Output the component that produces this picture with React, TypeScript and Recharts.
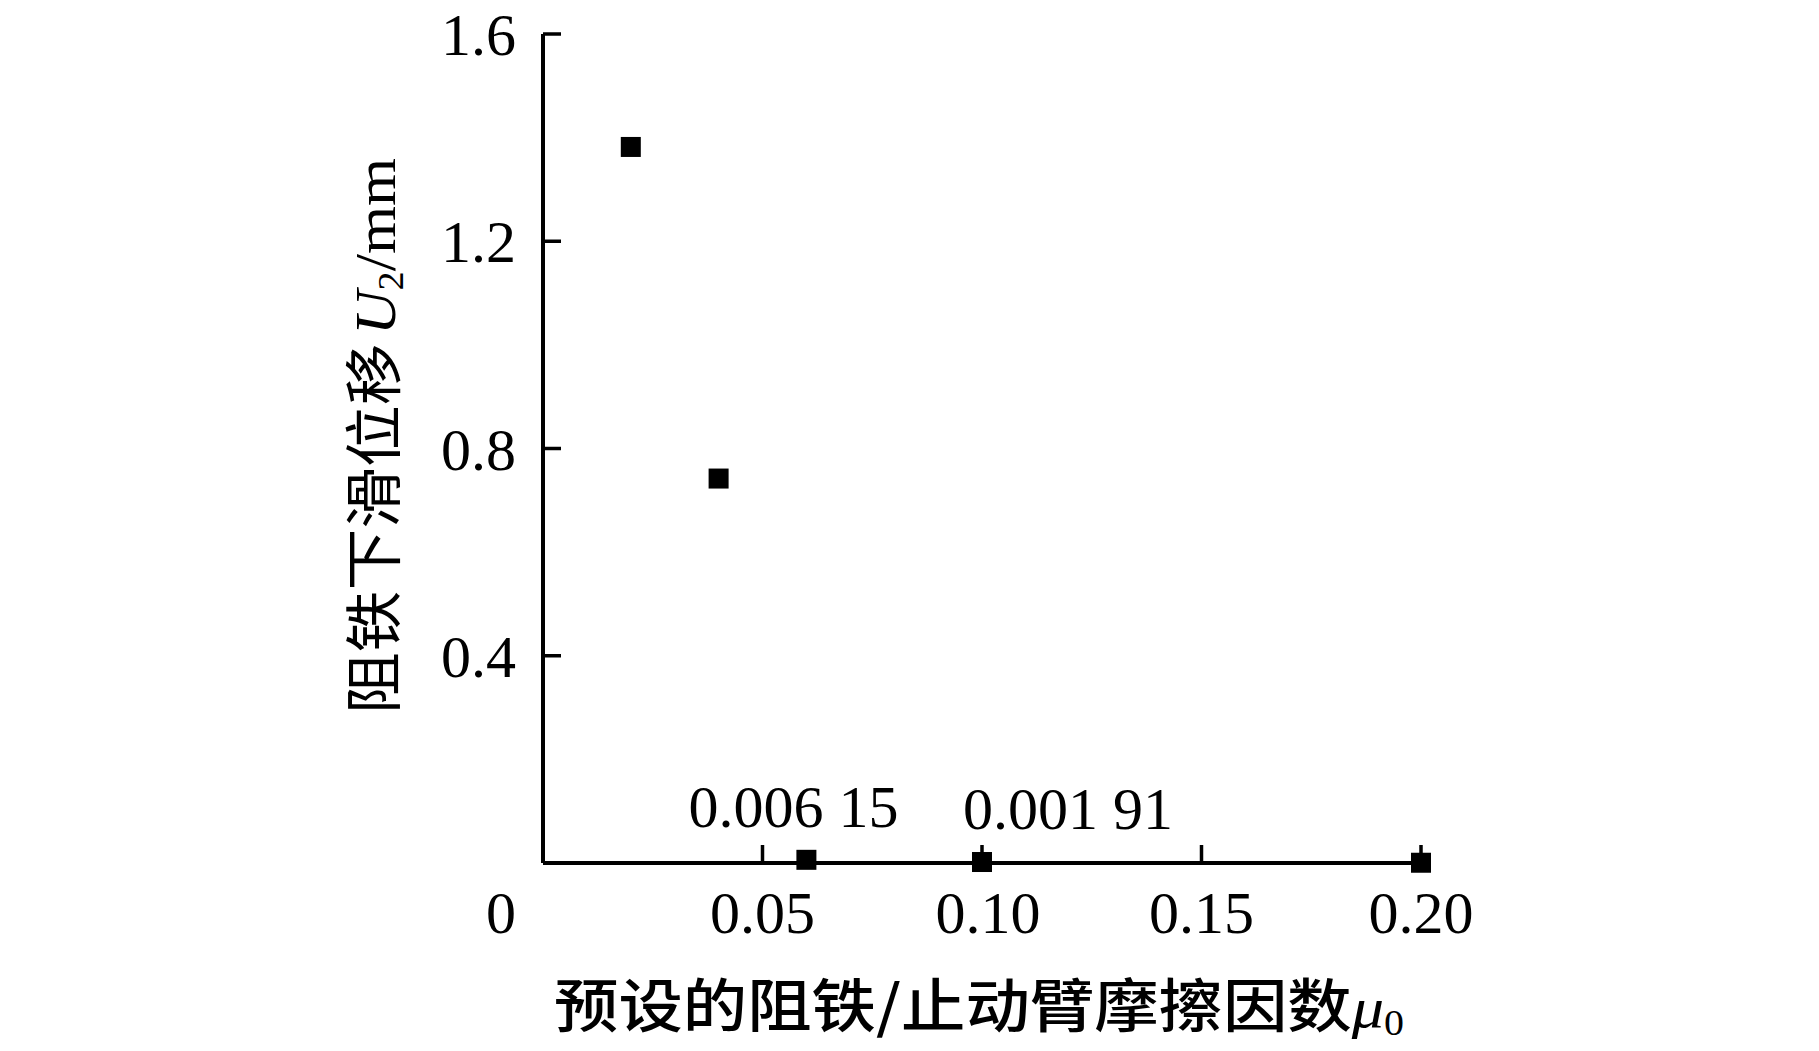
import React from 'react';
import { ScatterChart, Scatter, XAxis, YAxis } from 'recharts';

// preset friction coefficient mu0 and resulting slip U2 (mm)
const muValues = [0.02, 0.04, 0.06, 0.1, 0.2];
const slipValues = [1.382, 0.742, 0.00615, 0.00191, 0.0005];
const noteLabels = ['', '', '0.006 15', '0.001 91', ''];

const xTicks = [0, 0.05, 0.1, 0.15, 0.2];
const xTickLabels = ['0', '0.05', '0.10', '0.15', '0.20'];
const yTicks = [0.4, 0.8, 1.2, 1.6];
const yTickLabels = ['0.4', '0.8', '1.2', '1.6'];

const points = muValues.map((mu, i) => ({ x: mu, y: slipValues[i], note: noteLabels[i] }));

const SERIF = '"Liberation Serif", "Times New Roman", serif';
const CJK = '"Noto Sans CJK SC", sans-serif';
const INK = '#000';

const noteShift: Record<number, number> = { 2: -13, 3: 86 };
const xLabelShift: Record<number, number> = { 0: -42, 2: 6 };

const XTick = ({ x, y, payload }: any) => {
  const idx = xTicks.indexOf(payload.value);
  const label = xTickLabels[idx] ?? String(payload.value);
  const isZero = payload.value === 0;
  return (
    <g>
      {!isZero && <line x1={x} y1={y} x2={x} y2={y - 18} stroke={INK} strokeWidth={3.5} />}
      <text
        x={x + (xLabelShift[idx] ?? 0)}
        y={y + 70}
        textAnchor="middle"
        fontFamily={SERIF}
        fontSize={60}
        fill={INK}
      >
        {label}
      </text>
    </g>
  );
};

const YTick = ({ x, y, payload }: any) => {
  const label = yTickLabels[yTicks.indexOf(payload.value)] ?? String(payload.value);
  return (
    <g>
      <line x1={x} y1={y} x2={x + 18} y2={y} stroke={INK} strokeWidth={3.5} />
      <text x={x - 27} y={y + 21} textAnchor="end" fontFamily={SERIF} fontSize={60} fill={INK}>
        {label}
      </text>
    </g>
  );
};

const SquareMarker = ({ cx, cy, payload }: any) => {
  const i = muValues.indexOf(payload.x);
  return (
    <g>
      <rect x={cx - 10} y={cy - 10} width={20} height={20} fill={INK} />
      {payload.note && (
        <text
          x={cx + (noteShift[i] ?? 0)}
          y={cy - 33}
          textAnchor="middle"
          fontFamily={SERIF}
          fontSize={60}
          fill={INK}
        >
          {payload.note}
        </text>
      )}
    </g>
  );
};

export default function App() {
  return (
    <div style={{ position: 'absolute', left: 0, top: 0, width: 1819, height: 1051, background: '#fff' }}>
      <ScatterChart width={1819} height={1051} margin={{ top: 34, right: 398, left: 483, bottom: 158 }}>
        <XAxis
          type="number"
          dataKey="x"
          domain={[0, 0.2]}
          ticks={xTicks}
          tick={<XTick />}
          tickLine={false}
          tickSize={0}
          tickMargin={0}
          height={30}
          axisLine={{ stroke: INK, strokeWidth: 4 }}
          interval={0}
        />
        <YAxis
          type="number"
          dataKey="y"
          domain={[0, 1.6]}
          ticks={yTicks}
          tick={<YTick />}
          tickLine={false}
          tickSize={0}
          tickMargin={0}
          width={60}
          axisLine={{ stroke: INK, strokeWidth: 4 }}
          interval={0}
        />
        <Scatter data={points} shape={<SquareMarker />} isAnimationActive={false} />
      </ScatterChart>

      {/* axis titles */}
      <svg
        width={1819}
        height={1051}
        style={{ position: 'absolute', left: 0, top: 0, pointerEvents: 'none' }}
      >
        <text
          x={979}
          y={1027}
          textAnchor="middle"
          fontFamily={CJK}
          fontSize={58}
          fontWeight={500}
          fill={INK}
          textLength={850}
          lengthAdjust="spacingAndGlyphs"
        >
          预设的阻铁/止动臂摩擦因数
          <tspan fontFamily={SERIF} fontStyle="italic">μ</tspan>
          <tspan fontFamily={SERIF} fontSize={36} dy={8}>0</tspan>
        </text>
        <text
          transform="translate(395, 436) rotate(-90)"
          x={0}
          y={0}
          textAnchor="middle"
          fontFamily={CJK}
          fontSize={58}
          fill={INK}
          textLength={556}
          lengthAdjust="spacingAndGlyphs"
        >
          阻铁下滑位移
          <tspan fontFamily={SERIF} fontStyle="italic" dx={8}>U</tspan>
          <tspan fontFamily={SERIF} fontSize={36} dy={8}>2</tspan>
          <tspan fontFamily={SERIF} dy={-8}>/mm</tspan>
        </text>
      </svg>
    </div>
  );
}
